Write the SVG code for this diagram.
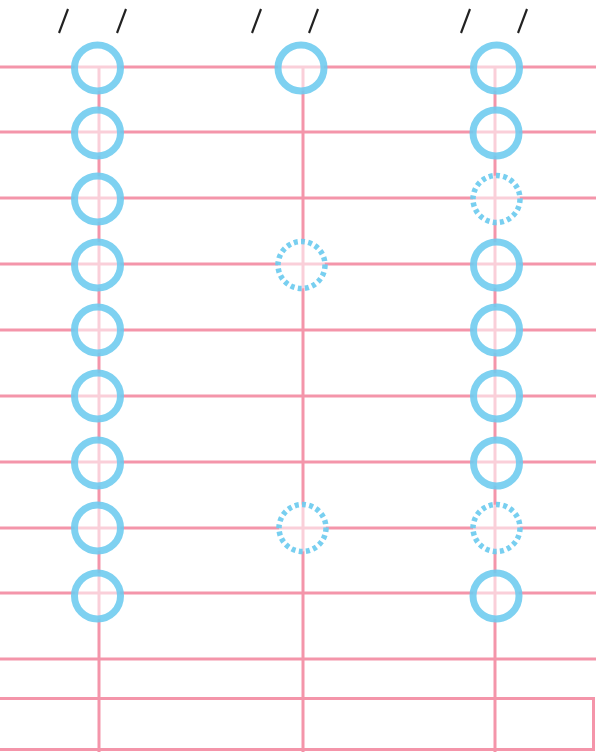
<svg xmlns="http://www.w3.org/2000/svg" width="596" height="752" viewBox="0 0 596 752">
<style>
.ln{stroke:#f495aa;stroke-width:3;fill:none}
.c{fill:#ffffff;fill-opacity:0.55;stroke:#6ccbef;stroke-opacity:0.88;stroke-width:7}
.d{fill:#ffffff;fill-opacity:0.55;stroke:#6ccbef;stroke-opacity:0.92;stroke-width:5.5;stroke-dasharray:4 3.3}
.s{stroke:#222;stroke-width:2.2;stroke-linecap:butt}
</style>
<rect width="596" height="752" fill="#fff"/>
<g id="connectors">
<line class="ln" x1="0" y1="67" x2="596" y2="67"/>
<line class="ln" x1="0" y1="132" x2="596" y2="132"/>
<line class="ln" x1="0" y1="198" x2="596" y2="198"/>
<line class="ln" x1="0" y1="264" x2="596" y2="264"/>
<line class="ln" x1="0" y1="330" x2="596" y2="330"/>
<line class="ln" x1="0" y1="396" x2="596" y2="396"/>
<line class="ln" x1="0" y1="462" x2="596" y2="462"/>
<line class="ln" x1="0" y1="528" x2="596" y2="528"/>
<line class="ln" x1="0" y1="593" x2="596" y2="593"/>
<line class="ln" x1="0" y1="659" x2="596" y2="659"/>
<rect class="ln" x="-2" y="698.5" width="595.5" height="51"/>
<line class="ln" x1="99" y1="67" x2="99" y2="752"/>
<line class="ln" x1="303" y1="67" x2="303" y2="752"/>
<line class="ln" x1="495" y1="67" x2="495" y2="752"/>
</g>
<g id="slashes">
<line class="s" x1="59" y1="33" x2="68" y2="9"/>
<line class="s" x1="117" y1="33" x2="126" y2="9"/>
<line class="s" x1="252" y1="33" x2="261" y2="9"/>
<line class="s" x1="309" y1="33" x2="318" y2="9"/>
<line class="s" x1="461" y1="33" x2="470" y2="9"/>
<line class="s" x1="518" y1="33" x2="527" y2="9"/>
</g>
<g id="col1">
<circle id="a1" class="c" cx="97.5" cy="68" r="23"/>
<circle id="a2" class="c" cx="97.5" cy="133" r="23"/>
<circle id="a3" class="c" cx="97.5" cy="199" r="23"/>
<circle id="a4" class="c" cx="97.5" cy="265" r="23"/>
<circle id="a5" class="c" cx="97.5" cy="330" r="23"/>
<circle id="a6" class="c" cx="97.5" cy="396" r="23"/>
<circle id="a7" class="c" cx="97.5" cy="463" r="23"/>
<circle id="a8" class="c" cx="97.5" cy="528" r="23"/>
<circle id="a9" class="c" cx="97.5" cy="596" r="23"/>
</g>
<g id="col2">
<circle id="b1" class="c" cx="301" cy="68" r="23"/>
<circle id="b2" class="d" cx="301.5" cy="265" r="23.5"/>
<circle id="b3" class="d" cx="302.5" cy="528" r="23.5"/>
</g>
<g id="col3">
<circle id="c1" class="c" cx="496.5" cy="68" r="23"/>
<circle id="c2" class="c" cx="496" cy="133" r="23"/>
<circle id="c3" class="d" cx="496.5" cy="199" r="23.5"/>
<circle id="c4" class="c" cx="496.5" cy="265" r="23"/>
<circle id="c5" class="c" cx="496.5" cy="330" r="23"/>
<circle id="c6" class="c" cx="496.5" cy="396" r="23"/>
<circle id="c7" class="c" cx="496.5" cy="463" r="23"/>
<circle id="c8" class="d" cx="496.5" cy="528" r="23.5"/>
<circle id="c9" class="c" cx="496" cy="596" r="23"/>
</g>
</svg>
